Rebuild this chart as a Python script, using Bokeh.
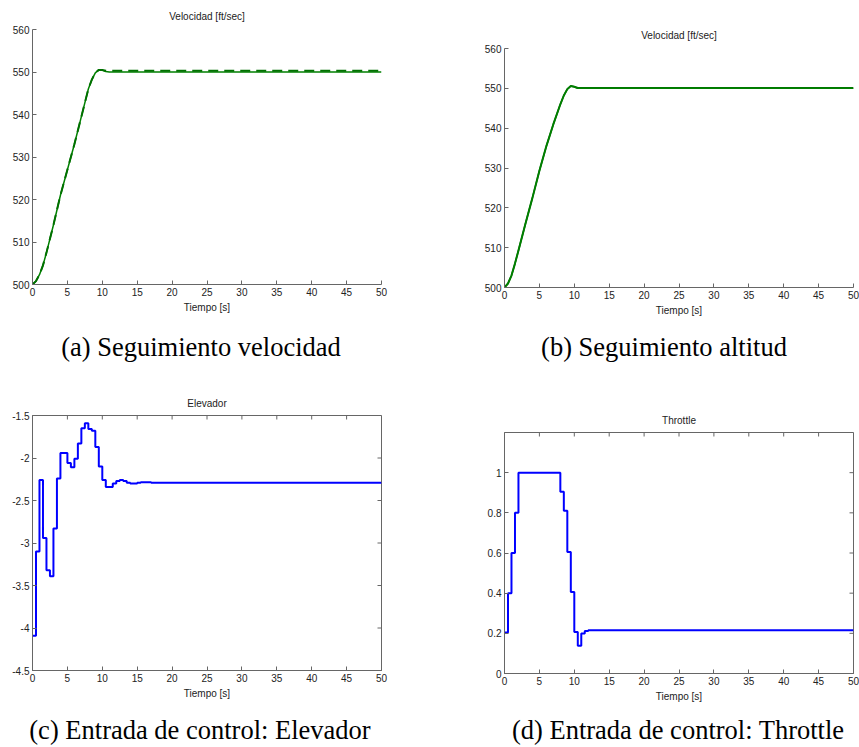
import math
from bokeh.plotting import figure
from bokeh.models import Range1d, FixedTicker, Div
from bokeh.layouts import column, row
from bokeh.embed import file_html
from bokeh.resources import INLINE

# ---------------- data ----------------
x_ticks = [0, 5, 10, 15, 20, 25, 30, 35, 40, 45, 50]

# (a) velocity tracking
t_vel_a = [0, 0.5, 1, 1.5, 2, 3, 4, 5, 6, 7, 8, 8.5, 9, 9.5, 10, 10.5, 11, 12, 20, 30, 40, 50]
v_vel_a = [500, 500.8, 502.3, 504.5, 507.5, 514, 521, 527, 533, 539.5, 546, 548.2, 549.8, 550.5, 550.4, 550.1, 550.0, 550.0, 550.0, 550.0, 550.0, 550.0]
t_ref_a = [0, 0.5, 1, 1.5, 2, 3, 4, 5, 6, 7, 8, 8.5, 9, 9.5, 10, 10.5, 11, 12, 20, 30, 40, 50]
v_ref_a = [500, 500.8, 502.3, 504.5, 507.5, 514, 521, 527, 533, 539.5, 546, 548.2, 549.8, 550.5, 550.5, 550.3, 550.3, 550.3, 550.3, 550.3, 550.3, 550.3]
y_ticks_vel = [500, 510, 520, 530, 540, 550, 560]

# (b) second tracking case
t_vel_b = [0, 0.5, 1, 1.5, 2, 3, 4, 5, 6, 7, 8, 8.5, 9, 9.5, 10, 10.5, 11, 20, 30, 40, 50]
v_vel_b = [500, 501, 503, 506, 509.3, 516, 522.5, 529.3, 535.5, 541, 546, 548.2, 549.8, 550.6, 550.4, 550.0, 550.0, 550.0, 550.0, 550.0, 550.0]
t_ref_b = [0, 0.5, 1, 1.5, 2, 3, 4, 5, 6, 7, 8, 8.5, 9, 9.5, 10, 10.5, 11, 20, 30, 40, 50]
v_ref_b = [500, 501, 503, 506, 509.3, 516, 522.5, 529.3, 535.5, 541, 546, 548.2, 549.8, 550.6, 550.4, 550.1, 550.1, 550.1, 550.1, 550.1, 550.1]

# (c) elevator command (zero-order hold)
t_elev = [0, 0.5, 1, 1.5, 2, 2.5, 3, 3.5, 4, 4.5, 5, 5.5, 6, 6.5, 7, 7.5, 8, 8.5, 9, 9.5,
          10, 10.5, 11, 11.5, 12, 12.5, 13, 13.5, 14, 14.5, 15, 15.5, 16, 16.5, 17, 50]
elev = [-4.09, -3.10, -2.26, -2.94, -3.32, -3.39, -2.83, -2.24, -1.94, -1.94, -2.06, -2.11, -2.01, -1.83, -1.65, -1.59, -1.66, -1.68, -1.87, -2.10,
        -2.26, -2.34, -2.34, -2.30, -2.27, -2.26, -2.27, -2.29, -2.30, -2.30, -2.29, -2.285, -2.285, -2.285, -2.29, -2.29]
y_ticks_elev = [-4.5, -4, -3.5, -3, -2.5, -2, -1.5]
y_labels_elev = ["-4.5", "-4", "-3.5", "-3", "-2.5", "-2", "-1.5"]

# (d) throttle command (zero-order hold)
t_thr = [0, 0.5, 1, 1.5, 2, 8, 8.5, 9, 9.5, 10, 10.5, 11, 11.5, 12, 50]
thr = [0.204, 0.40, 0.60, 0.80, 1.0, 0.905, 0.81, 0.605, 0.406, 0.207, 0.138, 0.199, 0.212, 0.215, 0.215]
y_ticks_thr = [0, 0.2, 0.4, 0.6, 0.8, 1]
y_labels_thr = ["0", "0.2", "0.4", "0.6", "0.8", "1"]

titles = ["Velocidad [ft/sec]", "Velocidad [ft/sec]", "Elevador", "Throttle"]
captions = ["(a) Seguimiento velocidad", "(b) Seguimiento altitud",
            "(c) Entrada de control: Elevador", "(d) Entrada de control: Throttle"]
x_label = "Tiempo [s]"

# ---------------- styling helpers ----------------
AX = "#666666"
TXT = "#222222"
SANS = "Liberation Sans"


def style_axis(ax):
    ax.axis_line_color = AX
    ax.major_tick_line_color = AX
    ax.major_tick_in = 4
    ax.major_tick_out = 0
    ax.minor_tick_line_color = None
    ax.major_label_text_font = SANS
    ax.major_label_text_color = TXT
    ax.major_label_text_font_size = "10px"
    ax.major_label_standoff = 3
    ax.axis_label_text_font = SANS
    ax.axis_label_text_font_size = "10px"
    ax.axis_label_text_font_style = "normal"
    ax.axis_label_text_color = TXT
    ax.axis_label_standoff = 3


def make_fig(w, h, left, right, top, bottom, xr, yr, yt, title, box, ylabels=None):
    p = figure(width=w, height=h, min_border_left=left, min_border_right=right,
               min_border_top=top, min_border_bottom=bottom,
               x_range=Range1d(*xr), y_range=Range1d(*yr),
               output_backend="svg", toolbar_location=None, title=title,
               frame_align=False)
    p.grid.visible = False
    p.background_fill_color = "white"
    p.border_fill_color = "white"
    p.title.text_font = SANS
    p.title.text_font_size = "10px"
    p.title.text_font_style = "normal"
    p.title.text_color = TXT
    p.title.align = "center"
    p.title.standoff = 13 if box else 16
    p.xaxis.ticker = FixedTicker(ticks=x_ticks)
    p.yaxis.ticker = FixedTicker(ticks=yt)
    if ylabels is not None:
        p.yaxis.major_label_overrides = {float(k): v for k, v in zip(yt, ylabels)}
    p.xaxis.axis_label = x_label
    for ax in p.xaxis + p.yaxis:
        style_axis(ax)
    if box:
        p.outline_line_color = AX
        # inward tick marks on the top and right edges of the box
        p.ray(x=x_ticks, y=[yr[1]] * len(x_ticks), length=4, length_units="screen",
              angle=-math.pi / 2, line_color=AX, line_width=1)
        p.ray(x=[xr[1]] * len(yt), y=yt, length=4, length_units="screen",
              angle=math.pi, line_color=AX, line_width=1)
    else:
        p.outline_line_color = None
    return p


# ---------------- figures ----------------
fa = make_fig(440, 330, 32, 59, 29, 46, (0, 50), (500, 560), y_ticks_vel, titles[0], False)
fa.line(t_vel_a, v_vel_a, line_color="#008000", line_width=1.5)
fa.line(t_ref_a, v_ref_a, line_color="#007000", line_width=2, line_dash="10 6")

fb = make_fig(419, 330, 64, 6, 48, 43, (0, 50), (500, 560), y_ticks_vel, titles[1], False)
fb.line(t_ref_b, v_ref_b, line_color="#007000", line_width=2)
fb.line(t_vel_b, v_vel_b, line_color="#008000", line_width=1.5)

fc = make_fig(440, 330, 32, 59, 40, 35, (0, 50), (-4.5, -1.5), y_ticks_elev, titles[2], True, y_labels_elev)
fc.step(t_elev, elev, mode="after", line_color="#0000ff", line_width=2)

fd = make_fig(419, 330, 64, 6, 57, 32, (0, 50), (0, 1.2), y_ticks_thr, titles[3], True, y_labels_thr)
fd.step(t_thr, thr, mode="after", line_color="#0000ff", line_width=2)


def caption(text, w, h, center, pad_top):
    inner_w = 420
    ml = center - inner_w // 2
    html = ('<div style="width:%dpx;margin-left:%dpx;padding-top:%dpx;text-align:center;'
            'font-family:\'Liberation Serif\';font-size:26.5px;line-height:26.5px;'
            'white-space:nowrap;color:#000;">%s</div>') % (inner_w, ml, pad_top, text)
    return Div(text=html, width=w, height=h, margin=0)


da = caption(captions[0], 440, 45, 201, 4)
db = caption(captions[1], 419, 45, 664 - 440, 4)
dc = caption(captions[2], 440, 42, 200, 12)
dd = caption(captions[3], 419, 42, 678 - 440, 12)

layout = column(row(fa, fb), row(da, db), row(fc, fd), row(dc, dd))

open("out.html", "w").write(file_html(layout, INLINE))
